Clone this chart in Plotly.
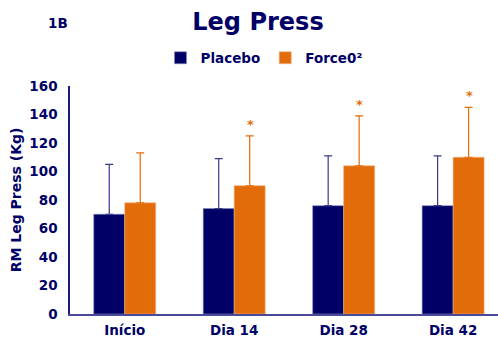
import plotly.graph_objects as go

categories = ["Início", "Dia 14", "Dia 28", "Dia 42"]
placebo = [70, 74, 76, 76]
placebo_sd = [35, 35, 35, 35]
force = [78, 90, 104, 110]
force_sd = [35, 35, 35, 35]
star_text = ["", "*", "*", "*"]

NAVY = "#000066"
ORANGE = "#E36C0A"
FONT = "DejaVu Sans"

fig = go.Figure()
fig.add_trace(go.Bar(
    name="<b>Placebo</b>", x=categories, y=placebo,
    marker=dict(color=NAVY, line=dict(color="#8888bb", width=0.6)),
    error_y=dict(type="data", array=placebo_sd, arrayminus=[0]*4, symmetric=False,
                 color="#3a3a8a", thickness=1.2, width=4),
))
fig.add_trace(go.Bar(
    name="<b>Force0²</b>", x=categories, y=force,
    marker=dict(color=ORANGE, line=dict(color="#f0b080", width=0.6)),
    error_y=dict(type="data", array=force_sd, arrayminus=[0]*4, symmetric=False,
                 color=ORANGE, thickness=1.2, width=4),
))

annotations = [dict(text="<b>1B</b>", x=(58-70)/428, y=(314-23)/228, xref="paper", yref="paper",
                    xanchor="center", yanchor="middle", showarrow=False,
                    font=dict(size=13.5, color=NAVY, family=FONT))]
for c, f, s, t in zip(categories, force, force_sd, star_text):
    if t:
        annotations.append(dict(text="<b>" + t + "</b>", x=c, y=f + s, xref="x", yref="y",
                                xshift=16, yshift=2, yanchor="bottom", showarrow=False,
                                font=dict(size=13, color=ORANGE, family=FONT)))

fig.update_layout(
    width=498, height=338,
    margin=dict(l=70, r=0, t=86, b=24),
    plot_bgcolor="white", paper_bgcolor="white",
    barmode="group", bargap=0.434, bargroupgap=0,
    font=dict(family=FONT, color=NAVY, size=12),
    title=dict(text="<b>Leg Press</b>", x=258/498, xref="container", xanchor="center",
               y=1-22/338, yref="container", yanchor="middle",
               font=dict(size=24, color=NAVY, family=FONT)),
    legend=dict(orientation="h", x=264/498, xref="container", xanchor="center",
                y=1-58/338, yref="container", yanchor="middle",
                font=dict(size=13.5, color=NAVY, family=FONT),
                itemwidth=30, traceorder="normal"),
    showlegend=True,
    annotations=annotations,
)

fig.update_xaxes(
    range=[-0.5, 3.41], showline=True, linecolor="#4a4a9a", linewidth=1.5,
    ticks="", showgrid=False, ticklabelstandoff=3,
    tickfont=dict(size=13.5, color=NAVY, family=FONT),
    tickprefix="<b>", ticksuffix="</b>",
)
fig.update_yaxes(
    range=[0, 160], dtick=20, showline=True, linecolor="#1a1a80", linewidth=1.5,
    ticks="", showgrid=False, zeroline=False, ticklabelstandoff=8,
    tickfont=dict(size=13.5, color=NAVY, family=FONT),
    tickprefix="<b>", ticksuffix="</b>",
    title=dict(text="<b>RM Leg Press (Kg)</b>", font=dict(size=14, color=NAVY, family=FONT), standoff=4),
)

fig.write_html("out.html")
